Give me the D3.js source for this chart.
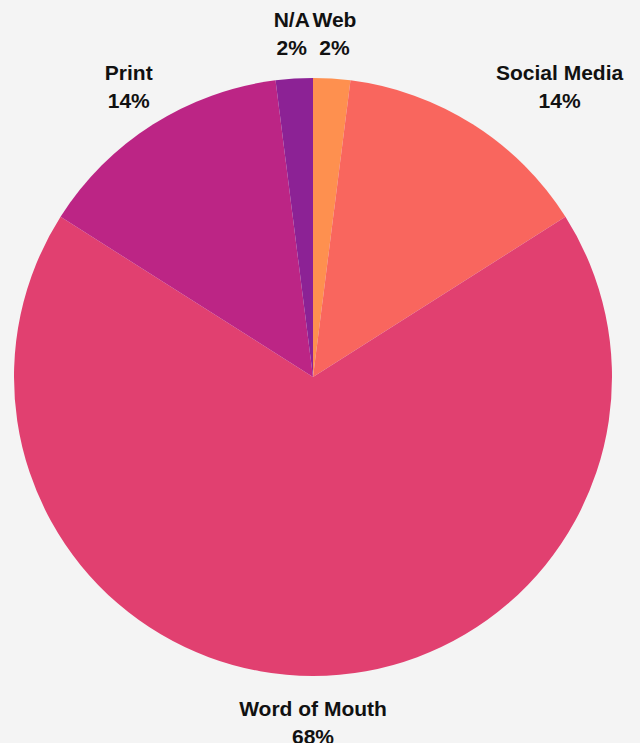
<!DOCTYPE html>
<html><head><meta charset="utf-8">
<script src="https://cdn.jsdelivr.net/npm/d3@7"></script>
<style>html,body{margin:0;padding:0;background:#f4f4f4;}svg{display:block;}</style>
</head><body>
<svg id="chart" width="640" height="743"></svg>
<script>
const categories = ["Web", "Social Media", "Word of Mouth", "Print", "N/A"];
const values = [2, 14, 68, 14, 2];
const colors = ["#fe904f", "#f9665e", "#e14070", "#bc2585", "#8c2295"];

const W = 640, H = 743;
const cx = 313, cy = 377, r = 299;
const labelR = 320, lineH = 28, fontSize = 21;
const labelNudge = {"Social Media": 41};

const svg = d3.select("#chart");
svg.append("rect").attr("width", W).attr("height", H).attr("fill", "#f4f4f4");
const g = svg.append("g").attr("transform", `translate(${cx},${cy})`);

const data = categories.map((c, i) => ({cat: c, val: values[i], color: colors[i]}));
const pie = d3.pie().value(d => d.val).sort(null);
const arc = d3.arc().innerRadius(0).outerRadius(r);
const arcs = pie(data);

g.selectAll("path.slice").data(arcs).enter().append("path")
  .attr("class", "slice")
  .attr("d", arc)
  .attr("fill", d => d.data.color);

const total = d3.sum(values);
const lab = g.selectAll("g.lab").data(arcs).enter().append("g").attr("class", "lab");
lab.each(function(d) {
  const sel = d3.select(this);
  const mid = (d.startAngle + d.endAngle) / 2;
  const sx = Math.sin(mid), cyy = -Math.cos(mid);
  const t1 = sel.append("text").text(d.data.cat);
  const t2 = sel.append("text").text(Math.round(d.data.val / total * 100) + "%");
  sel.selectAll("text")
    .attr("font-family", "'Liberation Sans', Arial, sans-serif")
    .attr("font-weight", "bold").attr("font-size", fontSize)
    .attr("fill", "#111").attr("text-anchor", "middle");
  const w = Math.max(t1.node().getComputedTextLength(), t2.node().getComputedTextLength());
  const h = lineH + 22;
  const px = labelR * sx, py = labelR * cyy;
  const bx = px + sx * w / 2 + (labelNudge[d.data.cat] || 0);
  const by = py + cyy * h / 2;
  t1.attr("x", bx).attr("y", by - h / 2 + 19);
  t2.attr("x", bx).attr("y", by - h / 2 + 19 + lineH);
});
</script>
</body></html>
